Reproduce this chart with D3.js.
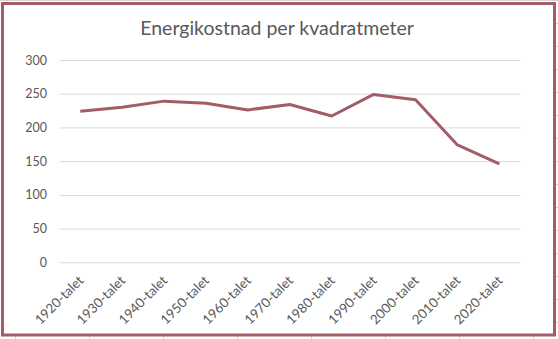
<!DOCTYPE html>
<html>
<head>
<meta charset="utf-8">
<script src="https://cdn.jsdelivr.net/npm/d3@7"></script>
<style>
  html, body { margin: 0; padding: 0; background: #ffffff; }
  svg { display: block; }
</style>
</head>
<body>
<svg id="chart" width="558" height="339"></svg>
<script>
const categories = ["1920-talet","1930-talet","1940-talet","1950-talet","1960-talet","1970-talet","1980-talet","1990-talet","2000-talet","2010-talet","2020-talet"];
const values = [224, 230, 239, 236, 226, 234, 217, 249, 241, 174, 146];
const yTicks = [0, 50, 100, 150, 200, 250, 300];
const title = "Energikostnad per kvadratmeter";

const svg = d3.select("#chart");
const W = 558, H = 339;
const font = "Lato, 'Open Sans', sans-serif";
const textColor = "#595959";
const lineColor = "#a45c66";

// spreadsheet background cell lines (outside the chart frame)
const bg = svg.append("g").attr("stroke", "#d4d4d4").attr("stroke-width", 1);
bg.append("line").attr("x1", 0).attr("x2", W).attr("y1", 0.5).attr("y2", 0.5);
[15, 89, 163, 237, 311, 385, 459, 533].forEach(x => {
  bg.append("line").attr("x1", x + 0.5).attr("x2", x + 0.5).attr("y1", 336).attr("y2", H);
});
[23, 46, 69, 92, 115, 138, 161, 184, 207, 230, 253, 276, 299, 322].forEach(y => {
  bg.append("line").attr("x1", 556).attr("x2", W).attr("y1", y + 0.5).attr("y2", y + 0.5);
});

// chart area
svg.append("rect")
  .attr("x", 2.5).attr("y", 3.5).attr("width", 552).attr("height", 331.5)
  .attr("fill", "#ffffff").attr("stroke", lineColor).attr("stroke-width", 3);

const x = d3.scaleBand().domain(categories).range([59.3, 520.3]);
const y = d3.scaleLinear().domain([0, 300]).range([262.3, 60]);

// gridlines
svg.append("g")
  .attr("transform", "translate(59.3,0)")
  .call(d3.axisLeft(y).tickValues(yTicks).tickSize(-(520.3 - 59.3)).tickFormat(""))
  .call(g => g.select(".domain").remove())
  .call(g => g.selectAll(".tick line").attr("stroke", "#d9d9d9").attr("stroke-width", 1));

// y labels
svg.append("g")
  .attr("transform", "translate(47,0)")
  .call(d3.axisLeft(y).tickValues(yTicks).tickSize(0).tickPadding(0))
  .call(g => g.select(".domain").remove())
  .call(g => g.selectAll("text")
    .attr("font-family", font).attr("font-size", 12.5).attr("fill", textColor));

// x labels
const xAxis = svg.append("g")
  .attr("transform", "translate(0,262.3)")
  .call(d3.axisBottom(x).tickSize(0).tickPadding(0))
  .call(g => g.select(".domain").remove());
xAxis.selectAll("text")
  .attr("font-family", font).attr("font-size", 13.3).attr("fill", textColor)
  .attr("text-anchor", "end")
  .attr("dy", null)
  .attr("x", 0).attr("y", 0)
  .attr("transform", "translate(4,19) rotate(-45)");

// line
const line = d3.line()
  .x((d, i) => x(categories[i]) + x.bandwidth() / 2)
  .y(d => y(d));
svg.append("path")
  .datum(values)
  .attr("d", line)
  .attr("fill", "none")
  .attr("stroke", lineColor)
  .attr("stroke-width", 3)
  .attr("stroke-linejoin", "round")
  .attr("stroke-linecap", "butt");

// title
svg.append("text")
  .attr("x", 277).attr("y", 35)
  .attr("text-anchor", "middle")
  .attr("font-family", font).attr("font-size", 19.5)
  .attr("fill", textColor)
  .text(title);
</script>
</body>
</html>
